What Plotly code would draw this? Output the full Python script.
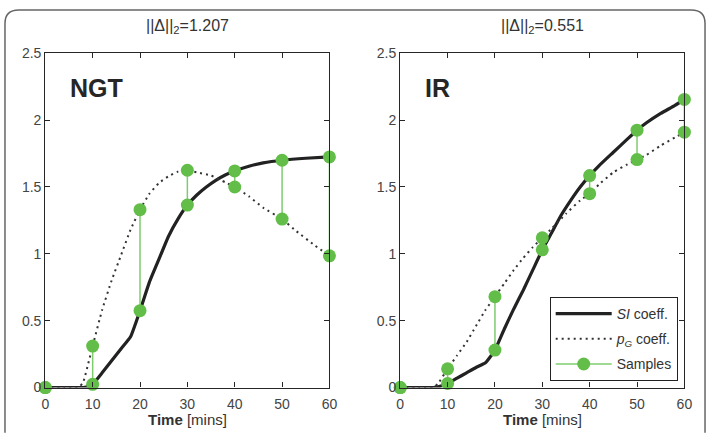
import plotly.graph_objects as go

# ---------------- data ----------------
# NGT panel
ngt_si_t = [0, 4, 8, 9, 10, 12, 14, 16, 18, 20, 22, 24, 26, 28, 30, 32, 34, 36, 38, 40, 43, 46, 50, 55, 60]
ngt_si_v = [0, 0, 0, 0.005, 0.024, 0.11, 0.20, 0.29, 0.38, 0.575, 0.79, 0.96, 1.13, 1.26, 1.365, 1.44, 1.50, 1.55, 1.59, 1.62, 1.655, 1.68, 1.70, 1.715, 1.725]
ngt_pg_t = [0, 4, 7, 8, 9, 10, 12, 14, 16, 18, 20, 22, 24, 26, 28, 30, 32, 35, 38, 40, 43, 46, 50, 53, 57, 60]
ngt_pg_v = [0, 0, 0, 0.04, 0.17, 0.31, 0.58, 0.80, 0.99, 1.18, 1.33, 1.45, 1.53, 1.58, 1.615, 1.625, 1.61, 1.585, 1.535, 1.50, 1.43, 1.345, 1.26, 1.17, 1.06, 0.985]
ngt_samp_t = [0, 10, 20, 30, 40, 50, 60]
ngt_samp_si = [0, 0.024, 0.575, 1.365, 1.62, 1.70, 1.725]
ngt_samp_pg = [0, 0.31, 1.33, 1.625, 1.50, 1.26, 0.985]

# IR panel
ir_si_t = [0, 4, 7, 8, 10, 12, 14, 16, 18, 20, 22, 24, 26, 28, 30, 32, 34, 36, 38, 40, 42, 45, 48, 50, 52, 55, 58, 60]
ir_si_v = [0, 0, 0, 0.005, 0.03, 0.07, 0.11, 0.15, 0.185, 0.28, 0.44, 0.59, 0.73, 0.88, 1.03, 1.16, 1.29, 1.40, 1.50, 1.585, 1.66, 1.76, 1.86, 1.925, 1.98, 2.05, 2.11, 2.155]
ir_pg_t = [0, 4, 7, 8, 10, 12, 14, 16, 18, 20, 22, 24, 26, 28, 30, 32, 35, 38, 40, 42, 45, 48, 50, 52, 55, 58, 60]
ir_pg_v = [0, 0, 0, 0.03, 0.14, 0.24, 0.34, 0.46, 0.58, 0.68, 0.78, 0.88, 0.97, 1.05, 1.12, 1.19, 1.30, 1.40, 1.45, 1.52, 1.61, 1.67, 1.705, 1.74, 1.81, 1.87, 1.91]
ir_samp_t = [0, 10, 20, 30, 40, 50, 60]
ir_samp_si = [0, 0.03, 0.28, 1.03, 1.585, 1.925, 2.155]
ir_samp_pg = [0, 0.14, 0.68, 1.12, 1.45, 1.705, 1.91]

panel_labels = ["NGT", "IR"]
panel_titles = ["||Δ||<sub>2</sub>=1.207", "||Δ||<sub>2</sub>=0.551"]
x_ticks = [0, 10, 20, 30, 40, 50, 60]
y_ticks = [0, 0.5, 1, 1.5, 2, 2.5]
y_ticklabels = ["0", "0.5", "1", "1.5", "2", "2.5"]

# ---------------- styles ----------------
FONT = "Liberation Sans, Arial, Helvetica, sans-serif"
W, H = 715, 436
BLACK = "#222222"
GREEN = "#62be49"
GREEN_LINE = "#7fcc6e"

fig = go.Figure()

panels = [
    (ngt_si_t, ngt_si_v, ngt_pg_t, ngt_pg_v, ngt_samp_t, ngt_samp_si, ngt_samp_pg, "x", "y"),
    (ir_si_t, ir_si_v, ir_pg_t, ir_pg_v, ir_samp_t, ir_samp_si, ir_samp_pg, "x2", "y2"),
]

for i, (st, sv, pt, pv, smt, sms, smp, xa, ya) in enumerate(panels):
    show = (i == 1)
    fig.add_trace(go.Scatter(
        x=st, y=sv, mode="lines", xaxis=xa, yaxis=ya,
        line=dict(color=BLACK, width=3.2, shape="spline", smoothing=0.4),
        name="<i>SI</i> coeff.", showlegend=show, cliponaxis=False,
        legendrank=1, legendgroup="si"))
    fig.add_trace(go.Scatter(
        x=pt, y=pv, mode="lines", xaxis=xa, yaxis=ya,
        line=dict(color="#333333", width=2, dash="2px,4px", shape="spline", smoothing=0.4),
        name="<i>p<sub>G</sub></i> coeff.", showlegend=show, cliponaxis=False,
        legendrank=2, legendgroup="pg"))
    xs, ys = [], []
    for t, a, b in zip(smt, sms, smp):
        xs += [t, t, None]
        ys += [a, b, None]
    fig.add_trace(go.Scatter(
        x=xs, y=ys, mode="lines+markers", xaxis=xa, yaxis=ya,
        line=dict(color=GREEN_LINE, width=1.5),
        marker=dict(color=GREEN, size=13, line=dict(width=0)),
        name="Samples", showlegend=show, cliponaxis=False,
        legendrank=3, legendgroup="samp"))

x_domains = [[42 / W, 331 / W], [403 / W, 692 / W]]
y_domain = [(H - 394) / H, (H - 47) / H]

axis_common = dict(
    showline=True, linecolor="#262626", linewidth=1.3, mirror="ticks",
    ticks="inside", ticklen=5, tickwidth=1, tickcolor="#262626",
    showgrid=False, zeroline=False,
    tickfont=dict(family=FONT, size=14, color="#444444"),
)

fig.update_layout(
    xaxis=dict(domain=x_domains[0], range=[0, 60], tickvals=x_ticks, anchor="y",
               ticklabelstandoff=4, **axis_common),
    yaxis=dict(domain=y_domain, range=[0, 2.5], tickvals=y_ticks, ticktext=y_ticklabels, anchor="x", **axis_common),
    xaxis2=dict(domain=x_domains[1], range=[0, 60], tickvals=x_ticks, anchor="y2",
                ticklabelstandoff=4, **axis_common),
    yaxis2=dict(domain=y_domain, range=[0, 2.5], tickvals=y_ticks, ticktext=y_ticklabels, anchor="x2", **axis_common),
)

annotations = []
for i in range(2):
    cx = (x_domains[i][0] + x_domains[i][1]) / 2
    annotations.append(dict(
        x=cx, y=(H - 19) / H, xref="paper", yref="paper", text=panel_titles[i],
        showarrow=False, font=dict(family=FONT, size=16, color="#333333"),
        xanchor="center", yanchor="middle"))
    annotations.append(dict(
        x=cx, y=(H - 427) / H, xref="paper", yref="paper", text="<b>Time</b> [mins]",
        showarrow=False, font=dict(family=FONT, size=15, color="#333333"),
        xanchor="center", yanchor="middle"))
    annotations.append(dict(
        x=(x_domains[i][0] * W + 23) / W, y=(H - 83) / H, xref="paper", yref="paper",
        text="<b>%s</b>" % panel_labels[i], showarrow=False,
        font=dict(family=FONT, size=25, color="#262626"),
        xanchor="left", yanchor="middle"))

# rounded outer frame
r = 14
x0, x1, y0t, yb = 1, 713, 2, H + 5
def px(x):
    return x / W
def py(y):
    return 1 - y / H
path = (f"M {px(x0)},{py(yb)} L {px(x0)},{py(y0t + r)} "
        f"Q {px(x0)},{py(y0t)} {px(x0 + r)},{py(y0t)} "
        f"L {px(x1 - r)},{py(y0t)} Q {px(x1)},{py(y0t)} {px(x1)},{py(y0t + r)} "
        f"L {px(x1)},{py(yb)}")

fig.update_layout(
    width=W, height=H,
    margin=dict(l=0, r=0, t=0, b=0),
    paper_bgcolor="white", plot_bgcolor="white",
    font=dict(family=FONT, color="#333333"),
    annotations=annotations,
    shapes=[dict(type="path", path=path, xref="paper", yref="paper",
                 line=dict(color="#666666", width=1.5))],
    legend=dict(
        x=555 / W, y=(H - 300) / H, xanchor="left", yanchor="top",
        bgcolor="white", bordercolor="#222222", borderwidth=1,
        font=dict(family=FONT, size=14, color="#333333"),
        tracegroupgap=4, itemwidth=56,
    ),
)

fig.write_html("out.html")
